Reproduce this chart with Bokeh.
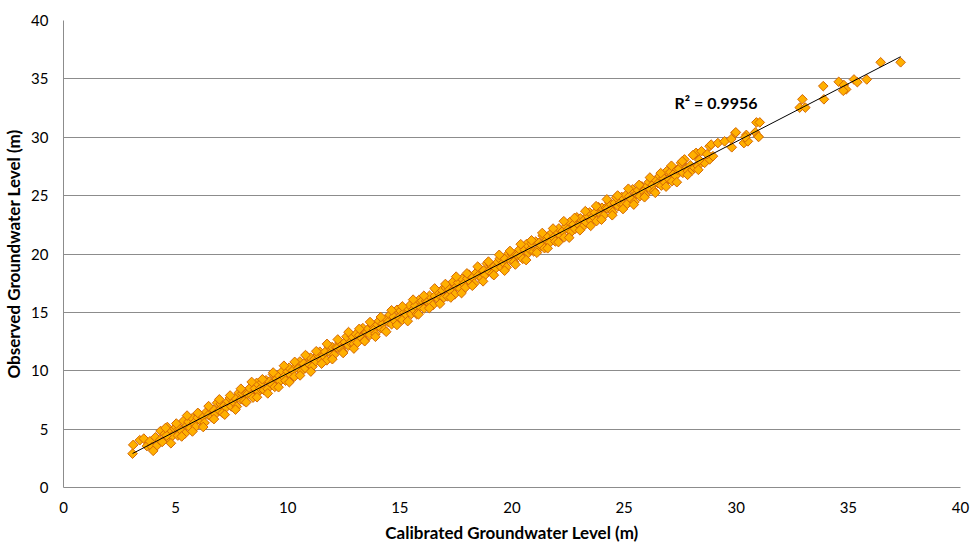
import numpy as np
from bokeh.plotting import figure
from bokeh.models import Range1d, Label
from bokeh.embed import file_html
from bokeh.resources import INLINE

# Calibrated (x) vs observed (y) groundwater level, metres
calibrated = [
    3.08, 3.11, 3.40, 3.58, 3.72, 3.85, 3.95, 4.00, 4.10, 4.18,
    4.30, 4.33, 4.40, 4.52, 4.63, 4.70, 4.78, 4.85, 4.95, 4.60,
    5.02, 5.10, 5.17, 5.26, 5.34, 5.41, 5.50, 5.57, 5.65, 5.74,
    5.81, 5.89, 5.98, 6.05, 6.13, 6.22, 6.29, 6.37, 6.46, 6.53,
    6.61, 6.70, 6.77, 6.85, 6.94, 7.01, 7.09, 7.18, 7.25, 7.33,
    7.42, 7.49, 7.58, 7.66, 7.73, 7.82, 7.90, 7.97, 8.06, 8.14,
    8.21, 8.30, 8.37, 8.45, 8.54, 8.61, 8.70, 8.78, 8.85, 8.94,
    9.03, 9.10, 9.18, 9.27, 9.34, 9.42, 9.51, 9.58, 9.66, 9.75,
    9.82, 9.90, 9.99, 10.06, 10.14, 10.23, 10.30, 10.38, 10.47, 10.54,
    10.62, 10.71, 10.78, 10.86, 10.95, 11.02, 11.10, 11.19, 11.26, 11.34,
    11.43, 11.50, 11.59, 11.67, 11.74, 11.83, 11.91, 11.98, 12.07, 12.15,
    12.22, 12.31, 12.38, 12.46, 12.55, 12.62, 12.71, 12.79, 12.86, 12.95,
    13.04, 13.11, 13.19, 13.28, 13.35, 13.43, 13.52, 13.59, 13.67, 13.76,
    13.83, 13.91, 14.00, 14.07, 14.15, 14.24, 14.31, 14.39, 14.48, 14.55,
    14.63, 14.72, 14.79, 14.87, 14.96, 15.03, 15.11, 15.20, 15.27, 15.35,
    15.44, 15.51, 15.60, 15.68, 15.75, 15.84, 15.92, 15.99, 16.08, 16.16,
    16.23, 16.32, 16.39, 16.47, 16.56, 16.63, 16.72, 16.80, 16.87, 16.96,
    17.05, 17.12, 17.20, 17.29, 17.36, 17.44, 17.53, 17.60, 17.68, 17.77,
    17.84, 17.92, 18.01, 18.08, 18.16, 18.25, 18.32, 18.40, 18.49, 18.56,
    18.64, 18.73, 18.80, 18.88, 18.97, 19.04, 19.12, 19.21, 19.28, 19.36,
    19.45, 19.52, 19.61, 19.69, 19.76, 19.85, 19.93, 20.00, 20.09, 20.17,
    20.24, 20.33, 20.40, 20.48, 20.57, 20.64, 20.73, 20.81, 20.88, 20.97,
    21.06, 21.13, 21.21, 21.30, 21.37, 21.45, 21.54, 21.61, 21.69, 21.78,
    21.85, 21.93, 22.02, 22.09, 22.17, 22.26, 22.33, 22.41, 22.50, 22.57,
    22.65, 22.74, 22.81, 22.89, 22.98, 23.05, 23.13, 23.22, 23.29, 23.37,
    23.46, 23.53, 23.62, 23.70, 23.77, 23.86, 23.94, 24.01, 24.10, 24.18,
    24.25, 24.34, 24.41, 24.49, 24.58, 24.65, 24.74, 24.82, 24.89, 24.98,
    25.07, 25.14, 25.22, 25.31, 25.38, 25.46, 25.55, 25.62, 25.70, 25.79,
    25.86, 25.94, 26.03, 26.10, 26.18, 26.27, 26.34, 26.42, 26.51, 26.58,
    26.66, 26.75, 26.82, 26.90, 26.99, 27.06, 27.14, 27.23, 27.30, 27.38,
    27.45, 27.54, 27.62, 27.69, 27.78, 27.84, 27.95, 28.05, 28.14, 28.14,
    28.21, 28.29, 28.45, 28.59, 28.81, 28.81, 28.88, 28.96, 28.70, 28.35,
    29.18, 29.48, 29.78, 29.80, 29.96, 29.98, 30.34, 30.45, 30.52, 30.40,
    30.85, 30.97, 31.00, 30.90, 31.05, 32.83, 33.08, 32.95, 33.91, 33.88,
    34.57, 34.80, 34.90, 34.77, 35.25, 35.40, 35.82, 36.44, 37.33,
    # outer edge of the band
    4.55, 4.79, 5.03, 5.27, 5.51, 5.75, 5.99, 6.23, 6.47, 6.71,
    6.95, 7.19, 7.43, 7.67, 7.91, 8.15, 8.39, 8.63, 8.87, 9.11,
    9.35, 9.59, 9.83, 10.07, 10.31, 10.55, 10.79, 11.03, 11.27, 11.51,
    11.75, 11.99, 12.23, 12.47, 12.71, 12.95, 13.19, 13.43, 13.67, 13.91,
    14.15, 14.39, 14.63, 14.87, 15.11, 15.35, 15.59, 15.83, 16.07, 16.31,
    16.55, 16.79, 17.03, 17.27, 17.51, 17.75, 17.99, 18.23, 18.47, 18.71,
    18.95, 19.19, 19.43, 19.67, 19.91, 20.15, 20.39, 20.63, 20.87, 21.11,
    21.35, 21.59, 21.83, 22.07, 22.31, 22.55, 22.79, 23.03, 23.27, 23.51,
    23.75, 23.99, 24.23, 24.47, 24.71, 24.95, 25.19, 25.43, 25.67, 25.91,
    26.15, 26.39, 26.63, 26.87, 27.11, 27.35, 27.59, 27.83, 28.07, 28.31,
]
observed = [
    2.90, 3.65, 4.05, 4.19, 3.55, 3.95, 3.48, 3.14, 4.30, 3.62,
    4.05, 4.84, 3.90, 4.60, 5.18, 4.19, 4.75, 4.40, 5.05, 4.45,
    5.17, 4.45, 5.07, 4.86, 5.69, 4.61, 5.30, 5.62, 5.10, 5.94,
    5.51, 5.19, 5.98, 6.30, 5.68, 6.07, 5.54, 6.47, 6.21, 6.83,
    6.01, 6.65, 6.27, 7.25, 6.59, 7.16, 6.39, 7.03, 6.85, 7.38,
    7.67, 6.94, 7.33, 7.66, 6.93, 8.12, 7.55, 8.07, 7.41, 8.04,
    8.01, 8.50, 7.92, 7.70, 8.49, 8.96, 8.20, 8.48, 9.00, 8.34,
    9.18, 8.45, 9.08, 8.87, 9.69, 8.62, 9.31, 9.63, 9.11, 9.95,
    9.47, 9.15, 9.94, 10.26, 9.64, 10.03, 9.50, 10.43, 10.17, 10.79,
    9.97, 10.61, 10.23, 11.21, 10.55, 11.12, 10.35, 10.99, 10.81, 11.34,
    11.63, 10.90, 11.29, 11.62, 10.89, 12.08, 11.51, 12.03, 11.37, 12.00,
    11.97, 12.46, 11.88, 11.66, 12.45, 12.92, 12.16, 12.44, 12.96, 12.30,
    13.14, 12.41, 13.04, 12.83, 13.65, 12.58, 13.27, 13.59, 13.07, 13.91,
    13.48, 13.16, 13.95, 14.27, 13.65, 14.04, 13.51, 14.44, 14.18, 14.80,
    13.98, 14.62, 14.24, 15.22, 14.56, 15.13, 14.36, 15.00, 14.82, 15.35,
    15.59, 14.86, 15.25, 15.58, 14.85, 16.04, 15.47, 15.99, 15.33, 15.96,
    15.93, 16.42, 15.84, 15.62, 16.41, 16.88, 16.12, 16.40, 16.92, 16.26,
    17.10, 16.37, 17.00, 16.79, 17.61, 16.54, 17.23, 17.55, 17.03, 17.87,
    17.44, 17.12, 17.91, 18.23, 17.61, 18.00, 17.47, 18.40, 18.14, 18.76,
    17.94, 18.58, 18.20, 19.18, 18.52, 19.09, 18.32, 18.96, 18.78, 19.31,
    19.60, 18.87, 19.26, 19.59, 18.86, 20.05, 19.48, 20.00, 19.34, 19.97,
    19.89, 20.38, 19.80, 19.58, 20.37, 20.84, 20.08, 20.36, 20.88, 20.22,
    21.06, 20.33, 20.96, 20.75, 21.57, 20.50, 21.19, 21.51, 20.99, 21.83,
    21.40, 21.08, 21.87, 22.19, 21.57, 21.96, 21.43, 22.36, 22.10, 22.72,
    21.90, 22.54, 22.16, 23.14, 22.48, 23.05, 22.28, 22.92, 22.74, 23.27,
    23.56, 22.83, 23.22, 23.55, 22.82, 24.01, 23.44, 23.96, 23.30, 23.93,
    23.90, 24.39, 23.81, 23.59, 24.38, 24.85, 24.09, 24.37, 24.89, 24.23,
    25.02, 24.29, 24.92, 24.71, 25.53, 24.46, 25.15, 25.47, 24.95, 25.79,
    25.36, 25.04, 25.83, 26.15, 25.53, 25.92, 25.39, 26.32, 26.06, 26.68,
    25.86, 26.50, 26.12, 27.10, 26.44, 27.01, 26.24, 26.88, 26.70, 27.23,
    27.30, 27.81, 26.95, 28.10, 27.35, 27.10, 27.60, 27.20, 28.52, 27.39,
    28.66, 27.53, 28.80, 27.81, 28.10, 29.23, 29.37, 28.38, 28.55, 28.05,
    29.50, 29.65, 29.85, 29.14, 30.36, 30.42, 29.50, 30.20, 29.65, 30.00,
    30.42, 30.08, 30.03, 31.27, 31.27, 32.54, 32.54, 33.25, 33.25, 34.38,
    34.75, 34.47, 34.10, 33.98, 34.95, 34.72, 34.95, 36.42, 36.42,
    # outer edge of the band
    5.10, 3.79, 5.48, 4.37, 6.16, 4.80, 6.39, 5.18, 6.97, 5.86,
    7.55, 6.24, 7.88, 6.67, 8.46, 7.30, 9.04, 7.73, 9.27, 8.06,
    9.85, 8.59, 10.43, 9.02, 10.76, 9.60, 11.34, 9.93, 11.67, 10.61,
    12.30, 10.99, 12.68, 11.52, 13.31, 11.90, 13.59, 12.53, 14.17, 12.91,
    14.60, 13.34, 15.18, 13.92, 15.51, 14.25, 16.09, 14.83, 16.42, 15.36,
    17.05, 15.74, 17.43, 16.27, 18.06, 16.65, 18.34, 17.28, 18.92, 17.66,
    19.35, 18.19, 19.93, 18.57, 20.26, 19.10, 20.84, 19.48, 21.17, 20.11,
    21.80, 20.49, 22.18, 21.02, 22.81, 21.40, 23.09, 22.03, 23.67, 22.41,
    24.10, 22.94, 24.68, 23.32, 25.01, 23.85, 25.59, 24.23, 25.92, 24.86,
    26.55, 25.24, 26.93, 25.77, 27.56, 26.15, 27.94, 26.78, 28.47, 27.21,
]
axis_ticks = [0, 5, 10, 15, 20, 25, 30, 35, 40]
r2_text = "R\u00b2 = 0.9956"

FONT = "Lato"
GRID = "#8c8c8c"

p = figure(width=970, height=545, output_backend="svg", toolbar_location=None,
           x_range=Range1d(0, 40), y_range=Range1d(0, 40),
           min_border_left=8, min_border_right=10, min_border_top=20,
           min_border_bottom=0)
p.outline_line_color = None
p.background_fill_color = "white"

p.scatter(calibrated, observed, marker="square", angle=np.pi / 4, size=6.8,
          fill_color="#FFB000", line_color="#D46806", line_width=1)

# trend line (least squares on the data), drawn across the data's x range
slope, intercept = np.polyfit(calibrated, observed, 1)
xs = np.array([min(calibrated), max(calibrated)])
p.line(xs, slope * xs + intercept, line_color="black", line_width=1)

for ax in (p.xaxis, p.yaxis):
    ax.ticker = axis_ticks
    ax.major_tick_line_color = None
    ax.minor_tick_line_color = None
    ax.major_tick_out = 0
    ax.major_tick_in = 0
    ax.minor_tick_out = 0
    ax.minor_tick_in = 0
    ax.axis_line_color = GRID
    ax.major_label_text_font = FONT
    ax.major_label_text_font_size = "15px"
    ax.major_label_text_color = "#000000"
    ax.axis_label_text_font = FONT
    ax.axis_label_text_font_style = "bold"
    ax.axis_label_text_font_size = "17px"
    ax.axis_label_text_color = "#000000"

p.xaxis.axis_label = "Calibrated Groundwater Level (m)"
p.yaxis.axis_label = "Observed Groundwater Level (m)"
p.xaxis.major_label_standoff = 14
p.xaxis.axis_label_standoff = 6
p.yaxis.major_label_standoff = 15
p.yaxis.axis_label_standoff = 4

p.xgrid.grid_line_color = None
p.ygrid.ticker = axis_ticks
p.ygrid.grid_line_color = GRID
p.ygrid.grid_line_width = 1

p.add_layout(Label(x=27.25, y=32.95, text=r2_text, text_font=FONT,
                   text_font_style="bold", text_font_size="16px",
                   text_baseline="middle", text_align="left", text_color="black"))

open("out.html", "w").write(file_html(p, INLINE))
